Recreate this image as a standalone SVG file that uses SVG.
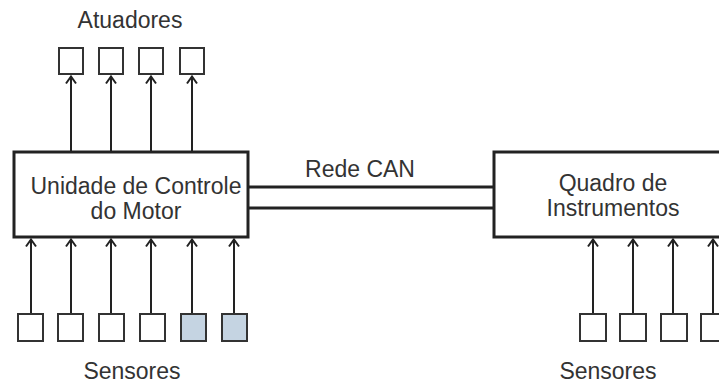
<svg xmlns="http://www.w3.org/2000/svg" width="719" height="388" viewBox="0 0 719 388">
<defs>
<style>
.box{fill:#fff;stroke:#222;stroke-width:3}
.sq{fill:#fff;stroke:#333;stroke-width:2}
.sqb{fill:#c5d4e2;stroke:#333;stroke-width:2}
.ln{stroke:#222;stroke-width:2;fill:none}
.can{stroke:#222;stroke-width:3;fill:none}
text{font-family:"Liberation Sans",Arial,sans-serif;font-size:23px;fill:#333;text-anchor:middle}
</style>
<marker id="ah" viewBox="0 0 10 12" refX="9" refY="6" markerWidth="10" markerHeight="12" markerUnits="userSpaceOnUse" orient="auto">
<path d="M1.5,1 L8.5,6 L1.5,11" fill="none" stroke="#222" stroke-width="2"/>
</marker>
</defs>
<rect width="719" height="388" fill="#fff"/>
<g id="connectors">
<line class="ln" x1="71" y1="152" x2="71" y2="76" marker-end="url(#ah)"/>
<line class="ln" x1="111" y1="152" x2="111" y2="76" marker-end="url(#ah)"/>
<line class="ln" x1="151" y1="152" x2="151" y2="76" marker-end="url(#ah)"/>
<line class="ln" x1="192" y1="152" x2="192" y2="76" marker-end="url(#ah)"/>
<line class="ln" x1="31" y1="313" x2="31" y2="239" marker-end="url(#ah)"/>
<line class="ln" x1="71" y1="313" x2="71" y2="239" marker-end="url(#ah)"/>
<line class="ln" x1="111" y1="313" x2="111" y2="239" marker-end="url(#ah)"/>
<line class="ln" x1="151" y1="313" x2="151" y2="239" marker-end="url(#ah)"/>
<line class="ln" x1="192" y1="313" x2="192" y2="239" marker-end="url(#ah)"/>
<line class="ln" x1="234" y1="313" x2="234" y2="239" marker-end="url(#ah)"/>
<line class="ln" x1="593" y1="313" x2="593" y2="239" marker-end="url(#ah)"/>
<line class="ln" x1="633" y1="313" x2="633" y2="239" marker-end="url(#ah)"/>
<line class="ln" x1="673" y1="313" x2="673" y2="239" marker-end="url(#ah)"/>
<line class="ln" x1="713" y1="313" x2="713" y2="239" marker-end="url(#ah)"/>
<line class="can" x1="248" y1="187" x2="494" y2="187"/>
<line class="can" x1="248" y1="208" x2="494" y2="208"/>
<text x="360" y="177">Rede CAN</text>
</g>
<g id="ecu">
<rect class="box" x="14" y="152" width="234" height="85"/>
<text x="136" y="194">Unidade de Controle</text>
<text x="136" y="219">do Motor</text>
</g>
<g id="painel">
<rect class="box" x="494" y="152" width="240" height="85"/>
<text x="613" y="191">Quadro de</text>
<text x="613" y="216">Instrumentos</text>
</g>
<g id="atuadores">
<text x="130" y="28">Atuadores</text>
<rect class="sq" x="59" y="48" width="24" height="26"/>
<rect class="sq" x="99" y="48" width="24" height="26"/>
<rect class="sq" x="139" y="48" width="24" height="26"/>
<rect class="sq" x="180" y="48" width="24" height="26"/>
</g>
<g id="sensores-ecu">
<rect class="sq" x="18" y="314" width="25" height="27"/>
<rect class="sq" x="58" y="314" width="25" height="27"/>
<rect class="sq" x="99" y="314" width="25" height="27"/>
<rect class="sq" x="140" y="314" width="25" height="27"/>
<rect class="sqb" x="181" y="314" width="25" height="27"/>
<rect class="sqb" x="222" y="314" width="25" height="27"/>
<text x="132" y="379">Sensores</text>
</g>
<g id="sensores-painel">
<rect class="sq" x="580" y="314" width="26" height="27"/>
<rect class="sq" x="620" y="314" width="26" height="27"/>
<rect class="sq" x="661" y="314" width="26" height="27"/>
<rect class="sq" x="701" y="314" width="26" height="27"/>
<text x="608" y="379">Sensores</text>
</g>
</svg>
